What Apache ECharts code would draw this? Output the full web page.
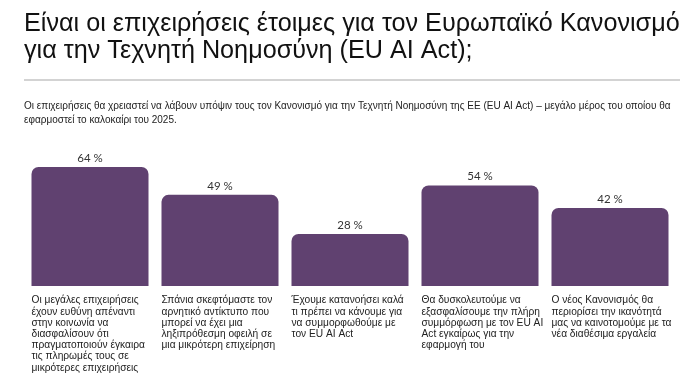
<!DOCTYPE html>
<html>
<head>
<meta charset="utf-8">
<script src="https://cdn.jsdelivr.net/npm/echarts@6/dist/echarts.min.js"></script>
<style>html,body{margin:0;padding:0;background:#fff}#c{width:700px;height:379px}</style>
</head>
<body>
<div id="c"></div>
<script>
var titleText = "Είναι οι επιχειρήσεις έτοιμες για τον Ευρωπαϊκό Κανονισμό\nγια την Τεχνητή Νοημοσύνη (EU AI Act);";
var subtitleText = "Οι επιχειρήσεις θα χρειαστεί να λάβουν υπόψιν τους τον Κανονισμό για την Τεχνητή Νοημοσύνη της ΕΕ (EU AI Act) – μεγάλο μέρος του οποίου θα\nεφαρμοστεί το καλοκαίρι του 2025.";
var categories = [
  "Οι μεγάλες επιχειρήσεις\nέχουν ευθύνη απέναντι\nστην κοινωνία να\nδιασφαλίσουν ότι\nπραγματοποιούν έγκαιρα\nτις πληρωμές τους σε\nμικρότερες επιχειρήσεις",
  "Σπάνια σκεφτόμαστε τον\nαρνητικό αντίκτυπο που\nμπορεί να έχει μια\nληξιπρόθεσμη οφειλή σε\nμια μικρότερη επιχείρηση",
  "Έχουμε κατανοήσει καλά\nτι πρέπει να κάνουμε για\nνα συμμορφωθούμε με\nτον EU AI Act",
  "Θα δυσκολευτούμε να\nεξασφαλίσουμε την πλήρη\nσυμμόρφωση με τον EU AI\nAct εγκαίρως για την\nεφαρμογή του",
  "Ο νέος Κανονισμός θα\nπεριορίσει την ικανότητά\nμας να καινοτομούμε με τα\nνέα διαθέσιμα εργαλεία"
];
var values = [64, 49, 28, 54, 42];

var chart = echarts.init(document.getElementById('c'), null, {renderer: 'canvas'});
chart.setOption({
  backgroundColor: '#ffffff',
  animation: false,
  title: [
    {
      text: titleText, left: 19, top: 6,
      textStyle: {fontFamily: 'Liberation Sans', fontSize: 25.2, fontWeight: 'normal', color: '#111111', lineHeight: 27}
    },
    {
      text: subtitleText, left: 19, top: 94,
      textStyle: {fontFamily: 'Liberation Sans', fontSize: 10, fontWeight: 'normal', color: '#222222', lineHeight: 14}
    }
  ],
  graphic: [
    {type: 'line', shape: {x1: 24, y1: 80, x2: 680, y2: 80}, style: {stroke: '#c4c4c4', lineWidth: 1.5}}
  ],
  grid: {left: 25, right: 25, top: 100, bottom: 93, containLabel: false},
  xAxis: {
    type: 'category',
    data: categories,
    axisLine: {show: false},
    axisTick: {show: false},
    axisLabel: {
      interval: 0,
      margin: 9,
      formatter: function (v) {
        return v.split('\n').map(function (l) { return '{a|' + l + '}'; }).join('\n');
      },
      rich: {
        a: {width: 117, align: 'left', fontFamily: 'Liberation Sans', fontSize: 10.2, lineHeight: 11.2, color: '#222222'}
      }
    }
  },
  yAxis: {type: 'value', min: 0, max: 100, show: false, splitLine: {show: false}},
  series: [{
    type: 'bar',
    data: values,
    barCategoryGap: '10%',
    itemStyle: {color: '#604170', borderRadius: [7, 7, 0, 0]},
    label: {
      show: true, position: 'top', distance: 3,
      formatter: '{c} %',
      fontFamily: 'Lato', fontSize: 11.5, color: '#333333'
    }
  }]
});
</script>
</body>
</html>
